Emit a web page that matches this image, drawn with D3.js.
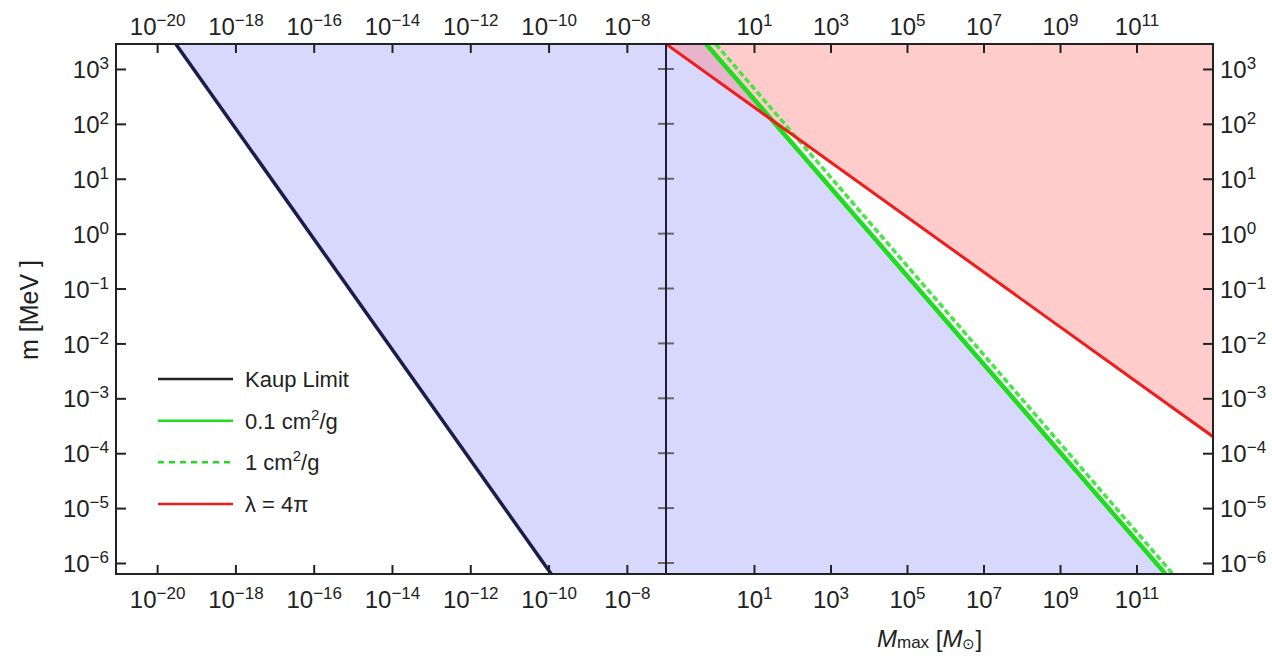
<!DOCTYPE html>
<html>
<head>
<meta charset="utf-8">
<script src="https://cdn.jsdelivr.net/npm/d3@7"></script>
<style>
  body { margin: 0; background: #fff; }
  svg { display: block; font-family: "Liberation Sans", Arial, sans-serif; }
</style>
</head>
<body>
<svg id="chart" width="1272" height="659"></svg>
<script>
// tick exponents (powers of ten)
var yTickExp = [-6, -5, -4, -3, -2, -1, 0, 1, 2, 3];
var leftTickExp = [-20, -18, -16, -14, -12, -10, -8];
var rightTickExp = [1, 3, 5, 7, 9, 11];

// curves, [M, m] pairs
var kaupLimit = [[3.0e-20, 2850], [1.17e-10, 6.3e-7]];
var sigma01 = [[0.56, 2850], [5.75e11, 6.3e-7]];
var sigma1 = [[1.0, 2850], [8.9e11, 6.3e-7]];
var lambda4pi = [[0.0501, 2850], [1e13, 2.0e-4]];

var legendLabels = ["Kaup Limit", "0.1 cm|2|/g", "1 cm|2|/g", "λ = 4π"];

var yDomain = [6.3e-7, 2850];
var leftDomain = [8.9e-22, 1e-7];
var rightDomain = [0.0501, 1e13];

var plotTop = 44, plotBottom = 574, x0 = 116, xMid = 666, x1 = 1213;
var ink = "#222";

var svg = d3.select("#chart");

var y = d3.scaleLog().domain(yDomain).range([plotBottom, plotTop]);
var xL = d3.scaleLog().domain(leftDomain).range([x0, xMid]);
var xR = d3.scaleLog().domain(rightDomain).range([xMid, x1]);

var defs = svg.append("defs");
defs.append("clipPath").attr("id", "clipL").append("rect")
  .attr("x", x0).attr("y", plotTop).attr("width", xMid - x0).attr("height", plotBottom - plotTop);
defs.append("clipPath").attr("id", "clipR").append("rect")
  .attr("x", xMid).attr("y", plotTop).attr("width", x1 - xMid).attr("height", plotBottom - plotTop);

var blue = "#d8d8fc";

// left panel: region right of the Kaup line
var gL = svg.append("g").attr("clip-path", "url(#clipL)");
var kaupPoly = kaupLimit.map(d => [xL(d[0]), y(d[1])]);
kaupPoly.push([xL(leftDomain[1]), y(yDomain[0])]);
kaupPoly.push([xL(leftDomain[1]), y(yDomain[1])]);
gL.append("path")
  .attr("d", "M" + kaupPoly.join("L") + "Z")
  .attr("fill", blue);

// right panel fills
var gR = svg.append("g").attr("clip-path", "url(#clipR)");
var bluePoly = [[xR(rightDomain[0]), y(yDomain[1])]]
  .concat(sigma01.map(d => [xR(d[0]), y(d[1])]))
  .concat([[xR(rightDomain[0]), y(yDomain[0])]]);
gR.append("path").attr("d", "M" + bluePoly.join("L") + "Z").attr("fill", blue);

var pinkPoly = lambda4pi.map(d => [xR(d[0]), y(d[1])])
  .concat([[xR(rightDomain[1]), y(yDomain[1])]]);
gR.append("path").attr("d", "M" + pinkPoly.join("L") + "Z")
  .attr("fill", "rgb(255,120,120)").attr("fill-opacity", 0.38);

var lineL = d3.line().x(d => xL(d[0])).y(d => y(d[1]));
var lineR = d3.line().x(d => xR(d[0])).y(d => y(d[1]));

gL.append("path").attr("d", lineL(kaupLimit))
  .attr("fill", "none").attr("stroke", "#1c1c4c").attr("stroke-width", 3.5);

gR.append("path").attr("d", lineR(sigma01))
  .attr("fill", "none").attr("stroke", "#1edc1e").attr("stroke-width", 4.5);
gR.append("path").attr("d", lineR(sigma1))
  .attr("fill", "none").attr("stroke", "#46e646").attr("stroke-width", 3.5)
  .attr("stroke-dasharray", "6,3");
gR.append("path").attr("d", lineR(lambda4pi))
  .attr("fill", "none").attr("stroke", "#f01c1c").attr("stroke-width", 3);

// axes
function powLabel(sel, anchor) {
  sel.selectAll(".tick text").each(function(d) {
    var e = Math.round(Math.log10(d));
    var t = d3.select(this).text(null).attr("text-anchor", anchor);
    t.append("tspan").text("10");
    t.append("tspan").attr("dy", -9).attr("font-size", 17)
      .text(String(e).replace("-", "\u2212"));
  });
}

function styleAxis(g) {
  g.attr("font-family", null).attr("font-size", 24);
  g.select(".domain").remove();
  g.selectAll(".tick line").attr("stroke", ink).attr("stroke-width", 2);
  g.selectAll(".tick text").attr("fill", ink);
}

var yTicks = yTickExp.map(e => Math.pow(10, e));
var lTicks = leftTickExp.map(e => Math.pow(10, e));
var rTicks = rightTickExp.map(e => Math.pow(10, e));

var gBL = svg.append("g").attr("transform", "translate(0," + plotBottom + ")")
  .call(d3.axisBottom(xL).tickValues(lTicks).tickSizeInner(-9).tickSizeOuter(0).tickPadding(17));
var gBR = svg.append("g").attr("transform", "translate(0," + plotBottom + ")")
  .call(d3.axisBottom(xR).tickValues(rTicks).tickSizeInner(-9).tickSizeOuter(0).tickPadding(17));
var gTL = svg.append("g").attr("transform", "translate(0," + plotTop + ")")
  .call(d3.axisTop(xL).tickValues(lTicks).tickSizeInner(-9).tickSizeOuter(0).tickPadding(9));
var gTR = svg.append("g").attr("transform", "translate(0," + plotTop + ")")
  .call(d3.axisTop(xR).tickValues(rTicks).tickSizeInner(-9).tickSizeOuter(0).tickPadding(9));
var gYL = svg.append("g").attr("transform", "translate(" + x0 + ",0)")
  .call(d3.axisLeft(y).tickValues(yTicks).tickSizeInner(-10).tickSizeOuter(0).tickPadding(7));
var gYR = svg.append("g").attr("transform", "translate(" + x1 + ",0)")
  .call(d3.axisRight(y).tickValues(yTicks).tickSizeInner(-10).tickSizeOuter(0).tickPadding(7));

[gBL, gBR, gTL, gTR, gYL, gYR].forEach(styleAxis);
powLabel(gBL, "middle"); powLabel(gBR, "middle");
powLabel(gTL, "middle"); powLabel(gTR, "middle");
powLabel(gYL, "end"); powLabel(gYR, "start");
gYL.selectAll(".tick text").attr("dy", "0.36em");
gYR.selectAll(".tick text").attr("dy", "0.36em");

// middle divider with crossing ticks
svg.append("g").selectAll("line").data(yTicks).enter().append("line")
  .attr("x1", xMid - 8).attr("x2", xMid + 8)
  .attr("y1", d => y(d)).attr("y2", d => y(d))
  .attr("stroke", "#666").attr("stroke-width", 2);
svg.append("line").attr("x1", xMid).attr("x2", xMid).attr("y1", plotTop).attr("y2", plotBottom)
  .attr("stroke", "#1e1e2e").attr("stroke-width", 2);

// frame
svg.append("rect").attr("x", x0).attr("y", plotTop)
  .attr("width", x1 - x0).attr("height", plotBottom - plotTop)
  .attr("fill", "none").attr("stroke", ink).attr("stroke-width", 2);

// axis titles
svg.append("text")
  .attr("transform", "translate(38,310) rotate(-90)")
  .attr("text-anchor", "middle").attr("font-size", 25).attr("fill", ink)
  .text("m [MeV ]");

var xt = svg.append("text").attr("x", 877).attr("y", 647)
  .attr("font-size", 24).attr("fill", ink);
xt.append("tspan").attr("font-style", "italic").text("M");
xt.append("tspan").attr("font-size", 17).attr("dy", 1).text("max");
xt.append("tspan").attr("dy", -1).text(" [");
xt.append("tspan").attr("font-style", "italic").text("M");
xt.append("tspan").attr("font-size", 15).attr("dy", 2).text("\u2299");
xt.append("tspan").attr("dy", -2).text("]");

// legend
var legendStyles = [
  { stroke: "#222", dash: null },
  { stroke: "#1edc1e", dash: null },
  { stroke: "#1edc1e", dash: "6,5" },
  { stroke: "#f01c1c", dash: null }
];
var legendY = d3.scalePoint().domain(legendLabels).range([379, 504]);
var lg = svg.append("g");
legendLabels.forEach(function(lbl, i) {
  var ly = legendY(lbl);
  lg.append("line").attr("x1", 158).attr("x2", 233).attr("y1", ly).attr("y2", ly)
    .attr("stroke", legendStyles[i].stroke).attr("stroke-width", 2.5)
    .attr("stroke-dasharray", legendStyles[i].dash);
  var t = lg.append("text").attr("x", 245).attr("y", ly).attr("dy", "0.36em")
    .attr("font-size", 22).attr("fill", ink);
  var parts = lbl.split("|");
  t.append("tspan").text(parts[0]);
  if (parts.length > 1) {
    t.append("tspan").attr("dy", -9).attr("font-size", 15).text(parts[1]);
    t.append("tspan").attr("dy", 9).text(parts[2]);
  }
});
</script>
</body>
</html>
